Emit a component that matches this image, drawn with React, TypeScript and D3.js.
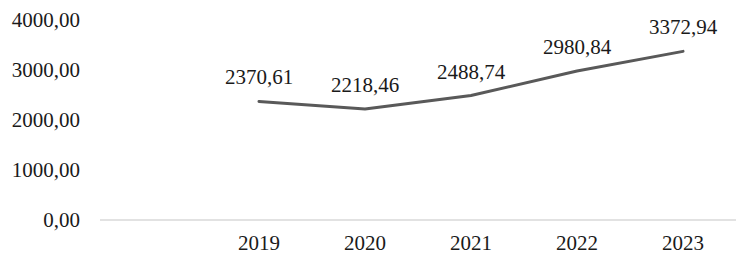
import React from "react";
import * as d3 from "d3";

const categories = ["", "2019", "2020", "2021", "2022", "2023"];
const years = ["2019", "2020", "2021", "2022", "2023"];
const values = [2370.61, 2218.46, 2488.74, 2980.84, 3372.94];
const yTicks = [0, 1000, 2000, 3000, 4000];

const fmt = (v: number) => v.toFixed(2).replace(".", ",");

export default function App() {
  const W = 756, H = 268;
  const x = d3.scaleBand<string>().domain(categories).range([100, 736]);
  const y = d3.scaleLinear().domain([0, 4000]).range([220, 20]);
  const cx = (c: string) => (x(c) ?? 0) + x.bandwidth() / 2;
  const line = d3
    .line<number>()
    .x((_, i) => cx(years[i]))
    .y((d) => y(d));
  const font = "'Liberation Serif', 'Times New Roman', serif";
  return (
    <svg
      width={W}
      height={H}
      style={{ position: "absolute", left: 0, top: 0, background: "#fff" }}
      fontFamily={font}
    >
      <line x1={100} x2={736} y1={y(0)} y2={y(0)} stroke="#d9d9d9" strokeWidth={1.5} />
      {yTicks.map((t) => (
        <text key={t} x={80} y={y(t) + 7} textAnchor="end" fontSize={21} fill="#1a1a1a">
          {fmt(t)}
        </text>
      ))}
      {years.map((yr) => (
        <text key={yr} x={cx(yr)} y={250} textAnchor="middle" fontSize={21} fill="#1a1a1a">
          {yr}
        </text>
      ))}
      <path d={line(values) ?? ""} fill="none" stroke="#595959" strokeWidth={3} strokeLinejoin="round" strokeLinecap="round" />
      {values.map((v, i) => (
        <text key={i} x={cx(years[i])} y={y(v) - 17} textAnchor="middle" fontSize={21} fill="#1a1a1a">
          {fmt(v)}
        </text>
      ))}
    </svg>
  );
}
